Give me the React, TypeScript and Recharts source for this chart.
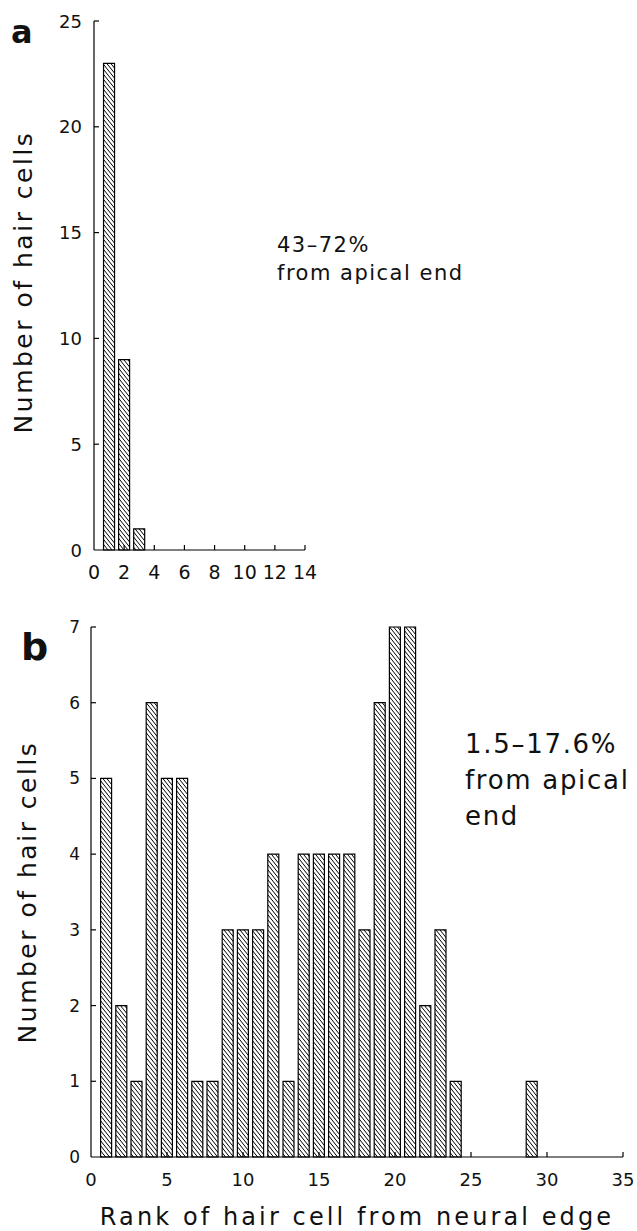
import React from 'react';
import { BarChart, Bar, XAxis, YAxis } from 'recharts';

// panel a: 43-72% from apical end
const rankA = [1, 2, 3];
const countA = [23, 9, 1];
const xTicksA = [0, 2, 4, 6, 8, 10, 12, 14];
const yTicksA = [0, 5, 10, 15, 20, 25];

// panel b: 1.5-17.6% from apical end
const rankB = [1, 2, 3, 4, 5, 6, 7, 8, 9, 10, 11, 12, 13, 14, 15, 16, 17, 18, 19, 20, 21, 22, 23, 24, 25, 26, 27, 28, 29];
const countB = [5, 2, 1, 6, 5, 5, 1, 1, 3, 3, 3, 4, 1, 4, 4, 4, 4, 3, 6, 7, 7, 2, 3, 1, 0, 0, 0, 0, 1];
const xTicksB = [0, 5, 10, 15, 20, 25, 30, 35];
const yTicksB = [0, 1, 2, 3, 4, 5, 6, 7];

const dataA = rankA.map((rank, i) => ({ rank, count: countA[i] }));
const dataB = rankB.map((rank, i) => ({ rank, count: countB[i] }));

const FONT = '"DejaVu Sans", sans-serif';
const INK = '#111';

const makeYTick = (gap: number, fontSize: number) => (props: any) => {
  const { x, y, payload } = props;
  return (
    <g>
      {payload.value !== 0 && (
        <line x1={x} x2={x + 5} y1={y} y2={y} stroke="#000" strokeWidth={1.2} />
      )}
      <text x={x - gap} y={y} textAnchor="end" dominantBaseline="central"
        fontSize={fontSize} fontFamily={FONT} fill={INK}>
        {payload.value}
      </text>
    </g>
  );
};

const makeXTick = (gap: number, fontSize: number) => (props: any) => {
  const { x, y, payload } = props;
  return (
    <g>
      {payload.value !== 0 && (
        <line x1={x} x2={x} y1={y} y2={y - 5} stroke="#000" strokeWidth={1.2} />
      )}
      <text x={x} y={y + gap} textAnchor="middle" dominantBaseline="central"
        fontSize={fontSize} fontFamily={FONT} fill={INK}>
        {payload.value}
      </text>
    </g>
  );
};

const Hatch = ({ id }: { id: string }) => (
  <defs>
    <pattern id={id} patternUnits="userSpaceOnUse" width={4} height={5}>
      <rect width={4} height={5} fill="#fff" />
      <path d="M-1,-1.25 L5,6.25 M-1,3.75 L1,6.25 M3,-1.25 L5,1.25" stroke="#000" strokeWidth={1} />
    </pattern>
  </defs>
);

const abs = (left: number, top: number, extra: React.CSSProperties = {}): React.CSSProperties => ({
  position: 'absolute', left, top, fontFamily: FONT, color: INK, whiteSpace: 'nowrap', ...extra,
});

const App = () => {
  return (
    <div style={{ position: 'absolute', left: 0, top: 0, width: 637, height: 1231, background: '#fff', overflow: 'hidden' }}>
      {/* panel a */}
      <div style={{ position: 'absolute', left: 0, top: 0 }}>
        <BarChart width={637} height={600} data={dataA}
          margin={{ top: 21, left: 54, right: 332, bottom: 20 }}>
          <Hatch id="hatchA" />
          <XAxis dataKey="rank" type="number" domain={[0, 14]} ticks={xTicksA} interval={0}
            height={30} tickSize={0} tickMargin={0} tickLine={false}
            axisLine={{ stroke: '#000', strokeWidth: 1.2 }} tick={makeXTick(22, 19)} />
          <YAxis type="number" domain={[0, 25]} ticks={yTicksA} interval={0}
            width={40} tickSize={0} tickMargin={0} tickLine={false}
            axisLine={{ stroke: '#000', strokeWidth: 1.2 }} tick={makeYTick(12, 18)} />
          <Bar dataKey="count" barSize={11} fill="url(#hatchA)" stroke="#000" strokeWidth={1.2}
            isAnimationActive={false} />
        </BarChart>
      </div>

      {/* panel b */}
      <div style={{ position: 'absolute', left: 0, top: 600 }}>
        <BarChart width={637} height={631} data={dataB}
          margin={{ top: 27, left: 51, right: 14, bottom: 44 }}>
          <Hatch id="hatchB" />
          <XAxis dataKey="rank" type="number" domain={[0, 35]} ticks={xTicksB} interval={0}
            height={30} tickSize={0} tickMargin={0} tickLine={false}
            axisLine={{ stroke: '#000', strokeWidth: 1.2 }} tick={makeXTick(22, 18)} />
          <YAxis type="number" domain={[0, 7]} ticks={yTicksB} interval={0}
            width={40} tickSize={0} tickMargin={0} tickLine={false}
            axisLine={{ stroke: '#000', strokeWidth: 1.2 }} tick={makeYTick(11, 17)} />
          <Bar dataKey="count" barSize={11} fill="url(#hatchB)" stroke="#000" strokeWidth={1.2}
            isAnimationActive={false} />
        </BarChart>
      </div>

      {/* panel letters */}
      <div style={abs(11, 13, { fontSize: 32, fontWeight: 'bold' })}>a</div>
      <div style={abs(21, 625, { fontSize: 38, fontWeight: 'bold' })}>b</div>

      {/* y axis titles */}
      <div style={abs(23, 282, { fontSize: 25, letterSpacing: 2.5, transform: 'translate(-50%, -50%) rotate(-90deg)' })}>
        Number of hair cells
      </div>
      <div style={abs(27, 892, { fontSize: 25, letterSpacing: 2.5, transform: 'translate(-50%, -50%) rotate(-90deg)' })}>
        Number of hair cells
      </div>

      {/* annotations */}
      <div style={abs(277, 231, { fontSize: 21, letterSpacing: 1.5, lineHeight: '28px' })}>
        43–72%<br />from apical end
      </div>
      <div style={abs(465, 726, { fontSize: 26, letterSpacing: 1.7, lineHeight: '36px' })}>
        1.5–17.6%<br />from apical<br />end
      </div>

      {/* x axis title */}
      <div style={abs(357, 1203, { fontSize: 24, letterSpacing: 3.1, transform: 'translateX(-50%)' })}>
        Rank of hair cell from neural edge
      </div>
    </div>
  );
};

export default App;
